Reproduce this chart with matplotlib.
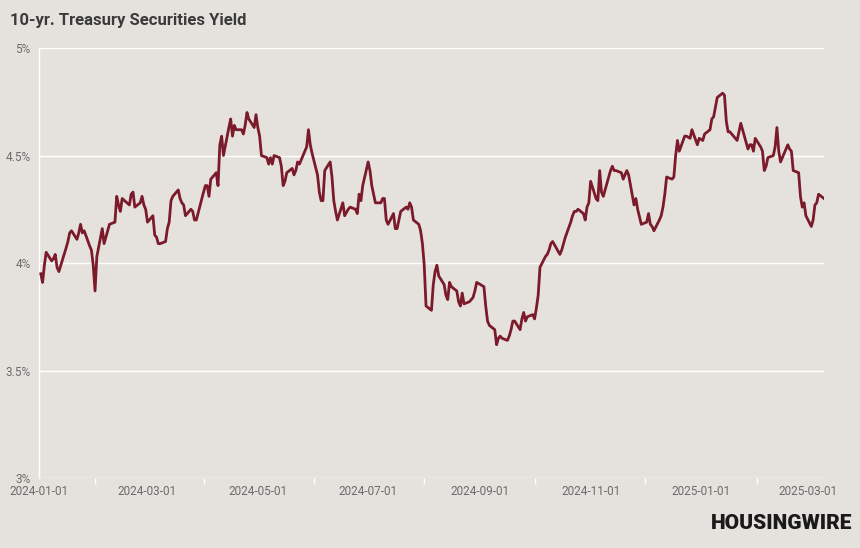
import pandas as pd
import matplotlib.pyplot as plt
import matplotlib.dates as mdates
from matplotlib.ticker import FixedLocator, FuncFormatter

# daily 10-yr yields (%)
dates_2024 = [
    '2024-01-02', '2024-01-03', '2024-01-04', '2024-01-05', '2024-01-08', '2024-01-09', '2024-01-10', '2024-01-11',
    '2024-01-12', '2024-01-16', '2024-01-17', '2024-01-18', '2024-01-19', '2024-01-22', '2024-01-23', '2024-01-24',
    '2024-01-25', '2024-01-26', '2024-01-29', '2024-01-30', '2024-01-31',
    '2024-02-01', '2024-02-02', '2024-02-05', '2024-02-06', '2024-02-07', '2024-02-08', '2024-02-09', '2024-02-12',
    '2024-02-13', '2024-02-14', '2024-02-15', '2024-02-16', '2024-02-20', '2024-02-21', '2024-02-22', '2024-02-23',
    '2024-02-26', '2024-02-27', '2024-02-28', '2024-02-29',
    '2024-03-01', '2024-03-04', '2024-03-05', '2024-03-06', '2024-03-07', '2024-03-08', '2024-03-11', '2024-03-12',
    '2024-03-13', '2024-03-14', '2024-03-15', '2024-03-18', '2024-03-19', '2024-03-20', '2024-03-21', '2024-03-22',
    '2024-03-25', '2024-03-26', '2024-03-27', '2024-03-28',
    '2024-04-01', '2024-04-02', '2024-04-03', '2024-04-04', '2024-04-05', '2024-04-08', '2024-04-09', '2024-04-10',
    '2024-04-11', '2024-04-12', '2024-04-15', '2024-04-16', '2024-04-17', '2024-04-18', '2024-04-19', '2024-04-22',
    '2024-04-23', '2024-04-24', '2024-04-25', '2024-04-26', '2024-04-29', '2024-04-30',
    '2024-05-01', '2024-05-02', '2024-05-03', '2024-05-06', '2024-05-07', '2024-05-08', '2024-05-09', '2024-05-10',
    '2024-05-13', '2024-05-14', '2024-05-15', '2024-05-16', '2024-05-17', '2024-05-20', '2024-05-21', '2024-05-22',
    '2024-05-23', '2024-05-24', '2024-05-28', '2024-05-29', '2024-05-30', '2024-05-31',
    '2024-06-03', '2024-06-04', '2024-06-05', '2024-06-06', '2024-06-07', '2024-06-10', '2024-06-11', '2024-06-12',
    '2024-06-13', '2024-06-14', '2024-06-17', '2024-06-18', '2024-06-20', '2024-06-21', '2024-06-24', '2024-06-25',
    '2024-06-26', '2024-06-27', '2024-06-28',
    '2024-07-01', '2024-07-02', '2024-07-03', '2024-07-05', '2024-07-08', '2024-07-09', '2024-07-10', '2024-07-11',
    '2024-07-12', '2024-07-15', '2024-07-16', '2024-07-17', '2024-07-18', '2024-07-19', '2024-07-22', '2024-07-23',
    '2024-07-24', '2024-07-25', '2024-07-26', '2024-07-29', '2024-07-30', '2024-07-31',
    '2024-08-01', '2024-08-02', '2024-08-05', '2024-08-06', '2024-08-07', '2024-08-08', '2024-08-09', '2024-08-12',
    '2024-08-13', '2024-08-14', '2024-08-15', '2024-08-16', '2024-08-19', '2024-08-20', '2024-08-21', '2024-08-22',
    '2024-08-23', '2024-08-26', '2024-08-27', '2024-08-28', '2024-08-29', '2024-08-30',
    '2024-09-03', '2024-09-04', '2024-09-05', '2024-09-06', '2024-09-09', '2024-09-10', '2024-09-11', '2024-09-12',
    '2024-09-13', '2024-09-16', '2024-09-17', '2024-09-18', '2024-09-19', '2024-09-20', '2024-09-23', '2024-09-24',
    '2024-09-25', '2024-09-26', '2024-09-27', '2024-09-30',
    '2024-10-01', '2024-10-02', '2024-10-03', '2024-10-04', '2024-10-07', '2024-10-08', '2024-10-09', '2024-10-10',
    '2024-10-11', '2024-10-15', '2024-10-16', '2024-10-17', '2024-10-18', '2024-10-21', '2024-10-22', '2024-10-23',
    '2024-10-24', '2024-10-25', '2024-10-28', '2024-10-29', '2024-10-30', '2024-10-31',
    '2024-11-01', '2024-11-04', '2024-11-05', '2024-11-06', '2024-11-07', '2024-11-08', '2024-11-12', '2024-11-13',
    '2024-11-14', '2024-11-15', '2024-11-18', '2024-11-19', '2024-11-20', '2024-11-21', '2024-11-22', '2024-11-25',
    '2024-11-26', '2024-11-27', '2024-11-29',
    '2024-12-02', '2024-12-03', '2024-12-04', '2024-12-05', '2024-12-06', '2024-12-09', '2024-12-10', '2024-12-11',
    '2024-12-12', '2024-12-13', '2024-12-16', '2024-12-17', '2024-12-18', '2024-12-19', '2024-12-20', '2024-12-23',
    '2024-12-24', '2024-12-26', '2024-12-27', '2024-12-30', '2024-12-31',
]
yields_2024 = [
    3.95, 3.91, 3.99, 4.05, 4.01, 4.02, 4.04, 3.98, 3.96, 4.07, 4.10, 4.14, 4.15, 4.11, 4.14, 4.18, 4.14, 4.15, 4.08,
    4.06, 3.99,
    3.87, 4.03, 4.16, 4.09, 4.12, 4.15, 4.18, 4.19, 4.31, 4.27, 4.24, 4.30, 4.27, 4.32, 4.33, 4.26, 4.28, 4.31, 4.27, 4.25,
    4.19, 4.22, 4.13, 4.12, 4.09, 4.09, 4.10, 4.16, 4.19, 4.29, 4.31, 4.34, 4.30, 4.28, 4.27, 4.22, 4.25, 4.24, 4.20, 4.20,
    4.33, 4.36, 4.36, 4.31, 4.39, 4.42, 4.36, 4.55, 4.59, 4.50, 4.63, 4.67, 4.59, 4.64, 4.62, 4.62, 4.60, 4.64, 4.70,
    4.67, 4.63, 4.69,
    4.63, 4.59, 4.50, 4.49, 4.46, 4.49, 4.46, 4.50, 4.49, 4.45, 4.36, 4.38, 4.42, 4.44, 4.41, 4.43, 4.47, 4.46, 4.54,
    4.62, 4.55, 4.51,
    4.41, 4.33, 4.29, 4.29, 4.43, 4.47, 4.40, 4.29, 4.24, 4.20, 4.28, 4.22, 4.25, 4.26, 4.25, 4.23, 4.32, 4.29, 4.36,
    4.47, 4.43, 4.36, 4.28, 4.28, 4.30, 4.30, 4.20, 4.18, 4.23, 4.16, 4.16, 4.20, 4.24, 4.26, 4.25, 4.28, 4.26, 4.20,
    4.18, 4.15, 4.09,
    3.99, 3.80, 3.78, 3.90, 3.96, 3.99, 3.94, 3.90, 3.85, 3.83, 3.91, 3.89, 3.87, 3.82, 3.80, 3.86, 3.81, 3.82, 3.83,
    3.84, 3.87, 3.91,
    3.89, 3.80, 3.73, 3.71, 3.69, 3.62, 3.65, 3.66, 3.65, 3.64, 3.66, 3.69, 3.73, 3.73, 3.69, 3.74, 3.77, 3.73, 3.75, 3.76,
    3.74, 3.79, 3.85, 3.98, 4.03, 4.04, 4.06, 4.09, 4.10, 4.04, 4.06, 4.09, 4.12, 4.19, 4.22, 4.24, 4.24, 4.25, 4.23,
    4.20, 4.26, 4.28,
    4.38, 4.30, 4.29, 4.43, 4.33, 4.31, 4.43, 4.45, 4.43, 4.43, 4.42, 4.39, 4.41, 4.43, 4.41, 4.27, 4.30, 4.25, 4.18,
    4.19, 4.23, 4.18, 4.17, 4.15, 4.20, 4.22, 4.26, 4.32, 4.40, 4.39, 4.40, 4.50, 4.57, 4.52, 4.59, 4.59, 4.58, 4.62,
    4.55, 4.58,
]
dates_2025 = [
    '2025-01-02', '2025-01-03', '2025-01-06', '2025-01-07', '2025-01-08', '2025-01-10', '2025-01-13', '2025-01-14',
    '2025-01-15', '2025-01-16', '2025-01-17', '2025-01-21', '2025-01-22', '2025-01-23', '2025-01-24', '2025-01-27',
    '2025-01-28', '2025-01-29', '2025-01-30', '2025-01-31',
    '2025-02-03', '2025-02-04', '2025-02-05', '2025-02-06', '2025-02-07', '2025-02-10', '2025-02-11', '2025-02-12',
    '2025-02-13', '2025-02-14', '2025-02-18', '2025-02-19', '2025-02-20', '2025-02-21', '2025-02-24', '2025-02-25',
    '2025-02-26', '2025-02-27', '2025-02-28',
    '2025-03-03', '2025-03-04', '2025-03-05', '2025-03-06', '2025-03-07', '2025-03-10',
]
yields_2025 = [
    4.57, 4.60, 4.62, 4.67, 4.68, 4.77, 4.79, 4.78, 4.66, 4.61, 4.61, 4.57, 4.61, 4.65, 4.62, 4.53, 4.55, 4.55, 4.52, 4.58,
    4.54, 4.52, 4.43, 4.45, 4.49, 4.50, 4.54, 4.63, 4.52, 4.47, 4.55, 4.53, 4.52, 4.43, 4.42, 4.31, 4.26, 4.28, 4.22,
    4.17, 4.20, 4.27, 4.28, 4.32, 4.30,
]

y_ticks = [3, 3.5, 4, 4.5, 5]
x_ticks = ['2024-01-01', '2024-03-01', '2024-05-01', '2024-07-01', '2024-09-01', '2024-11-01', '2025-01-01', '2025-03-01']
x_minor = ['2024-02-01', '2024-04-01', '2024-06-01', '2024-08-01', '2024-10-01', '2024-12-01', '2025-02-01']

df = pd.DataFrame({'date': pd.to_datetime(dates_2024 + dates_2025), 'yield': yields_2024 + yields_2025})

bg = '#e5e2de'
plt.rcParams['font.family'] = ['Roboto', 'DejaVu Sans']

fig = plt.figure(figsize=(8.6, 5.48), dpi=100, facecolor=bg)
ax = fig.add_axes([0.0453, 0.1277, 0.9128, 0.7847])
ax.set_facecolor(bg)

ax.plot(df['date'], df['yield'], color='#7b1a2b', lw=2.0, solid_joinstyle='round', zorder=3)

ax.set_xlim(pd.Timestamp('2024-01-01'), df['date'].iloc[-1])
ax.set_ylim(3, 5)
ax.set_yticks(y_ticks)
ax.yaxis.set_major_formatter(FuncFormatter(lambda v, p: f'{v:g}%'))
ax.set_xticks(pd.to_datetime(x_ticks))
ax.xaxis.set_major_formatter(mdates.DateFormatter('%Y-%m-%d'))
ax.xaxis.set_minor_locator(FixedLocator(mdates.date2num(pd.to_datetime(x_minor))))

ax.grid(axis='y', color='white', lw=1.0, zorder=1)
for s in ['top', 'right', 'bottom']:
    ax.spines[s].set_visible(False)
ax.spines['left'].set_color('white')
ax.spines['left'].set_linewidth(1.0)

ax.tick_params(axis='y', length=0, pad=6, labelsize=8.5, labelcolor='#6b6b6b')
ax.tick_params(axis='x', which='major', length=0, pad=5, labelsize=8.5, labelcolor='#6b6b6b')
ax.tick_params(axis='x', which='minor', length=4, width=1, color='white')

fig.text(0.012, 0.962, '10-yr. Treasury Securities Yield', fontsize=12, fontweight='bold',
         color='#3a3a3a', va='center', ha='left')
fig.text(0.991, 0.045, 'HOUSINGWIRE', fontsize=15, fontweight='heavy', color='#1a1a1a',
         va='center', ha='right')

plt.savefig('out.png', dpi=100, facecolor=bg)
